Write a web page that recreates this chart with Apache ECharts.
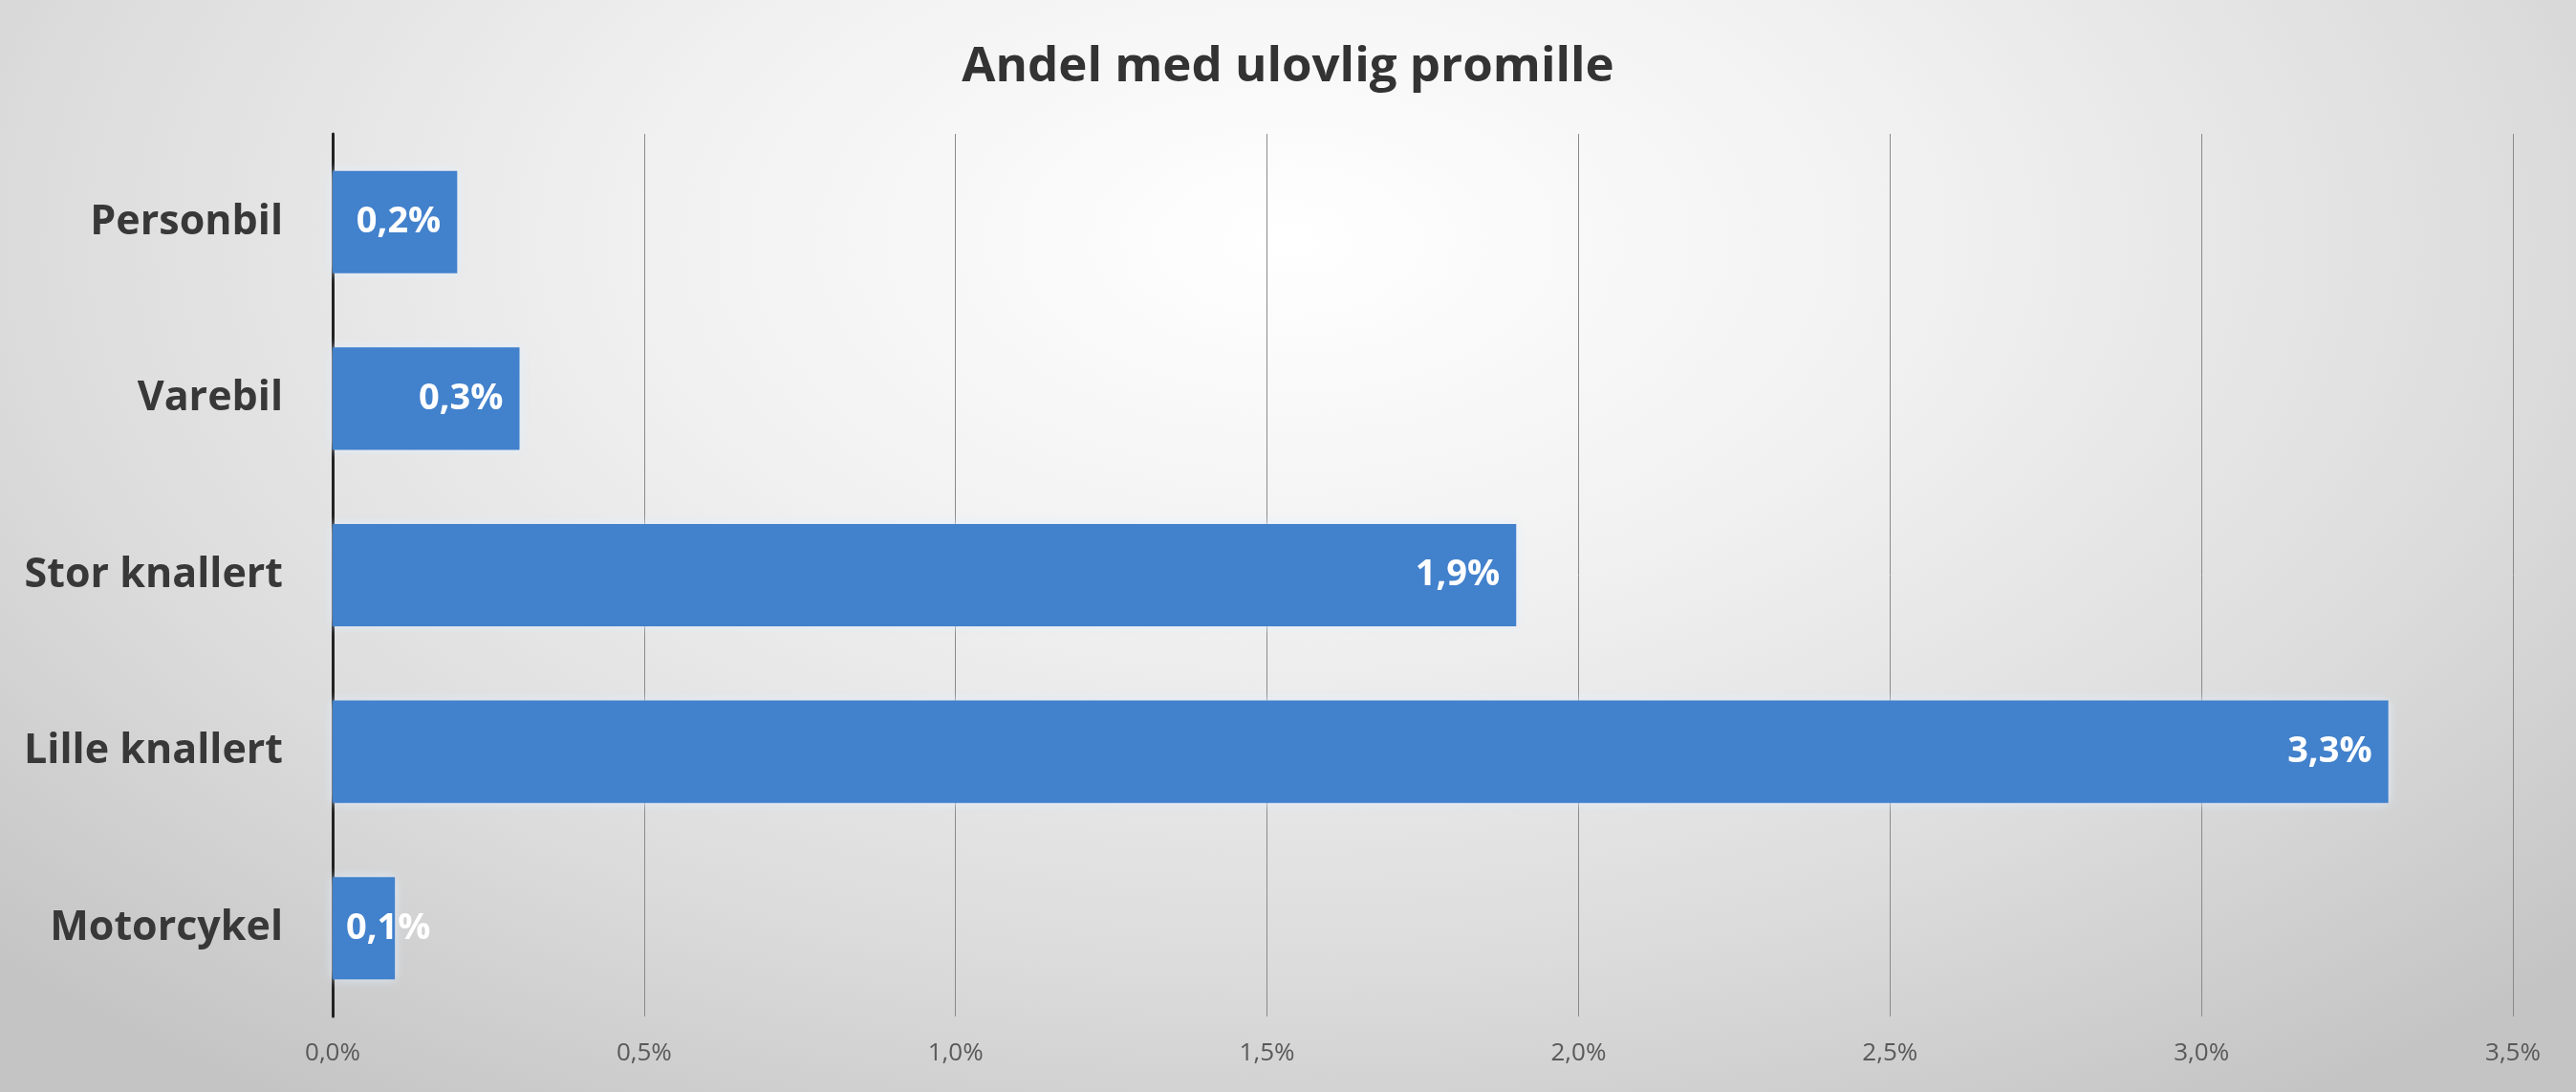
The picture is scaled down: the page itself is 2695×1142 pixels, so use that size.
<!DOCTYPE html>
<html>
<head>
<meta charset="utf-8">
<script src="https://cdn.jsdelivr.net/npm/echarts@6/dist/echarts.min.js"></script>
<style>
html,body{margin:0;padding:0;width:2695px;height:1142px;overflow:hidden;}
#c{width:2695px;height:1142px;background:radial-gradient(ellipse 70% 95% at 50% 22%, #ffffff 0%, #f1f1f1 35%, #dcdcdc 70%, #c4c4c4 100%);}
</style>
</head>
<body>
<div id="c"></div>
<script>
const titleText = 'Andel med ulovlig promille';
const categories = ['Personbil', 'Varebil', 'Stor knallert', 'Lille knallert', 'Motorcykel'];
const values = [0.2, 0.3, 1.9, 3.3, 0.1];
const xMin = 0, xMax = 3.5, xInterval = 0.5;

const fmt = v => v.toFixed(1).replace('.', ',') + '%';

const chart = echarts.init(document.getElementById('c'), null, {renderer: 'canvas'});
chart.setOption({
  backgroundColor: 'transparent',
  animation: false,
  title: {
    text: titleText,
    left: 'center',
    top: 40,
    textStyle: {fontFamily: 'Open Sans', fontWeight: 'bold', fontSize: 51, color: '#333333'}
  },
  grid: {left: 348, right: 66, top: 140, bottom: 79, containLabel: false},
  xAxis: {
    type: 'value', min: xMin, max: xMax, interval: xInterval,
    axisLine: {show: false}, axisTick: {show: false},
    splitLine: {show: true, lineStyle: {color: '#8a8a8a', width: 1}},
    axisLabel: {formatter: fmt, fontFamily: 'Open Sans', fontSize: 26, color: '#595959', margin: 26}
  },
  yAxis: {
    type: 'category', data: categories, inverse: true,
    axisLine: {show: true, lineStyle: {color: '#222222', width: 3}},
    axisTick: {show: false},
    axisLabel: {fontFamily: 'Open Sans', fontWeight: 'bold', fontSize: 43, color: '#383838', margin: 52}
  },
  series: [{
    type: 'bar',
    data: values.map(v => ({
      value: v,
      label: v < 0.15 ? {position: 'insideLeft', distance: 14} : {}
    })),
    barCategoryGap: '42%',
    itemStyle: {color: '#4281cc', shadowColor: 'rgba(225,238,255,0.95)', shadowBlur: 10},
    label: {
      show: true, position: 'insideRight', distance: 17,
      formatter: p => fmt(p.value),
      fontFamily: 'Open Sans', fontWeight: 'bold', fontSize: 38, color: '#ffffff'
    }
  }]
});
</script>
</body>
</html>
